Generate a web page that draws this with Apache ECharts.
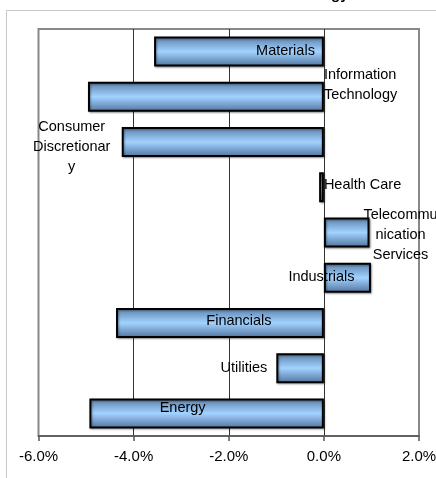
<!DOCTYPE html>
<html>
<head>
<meta charset="utf-8">
<script src="https://cdn.jsdelivr.net/npm/echarts@6/dist/echarts.min.js"></script>
<style>
html,body{margin:0;padding:0;background:#fff;}
#chart{width:436px;height:478px;}
</style>
</head>
<body>
<div id="chart"></div>
<script>
const categories = ['Materials','Information Technology','Consumer Discretionary','Health Care','Telecommunication Services','Industrials','Financials','Utilities','Energy'];
const returnsPct = [-3.57, -4.96, -4.25, -0.10, 0.96, 0.99, -4.37, -1.00, -4.93];
const labelTexts = ['Materials','Information\nTechnology','Consumer\nDiscretionar\ny','Health Care','Telecommu\nnication\nServices','Industrials','Financials','Utilities','Energy'];
const titleText = 'S&P 500 Sector Returns vs. Strategy';
const axisMin = -6, axisMax = 2, axisStep = 2;

// label placement (layout only)
const labelPlacement = [
  {position:'insideRight', distance:9, offset:[0,-1]},
  {position:'right', distance:0, align:'left', offset:[0,-12]},
  {position:'left', distance:0, align:'center', offset:[-50,5]},
  {position:'right', distance:0, offset:[0,-2]},
  {position:'right', distance:0, align:'center', offset:[31,2]},
  {position:'inside', offset:[-26,-1]},
  {position:'inside', offset:[19,-2]},
  {position:'left', distance:9, offset:[0,0]},
  {position:'inside', offset:[-24,-5]}
];

const chart = echarts.init(document.getElementById('chart'), null, {renderer:'canvas'});
const font = "'Liberation Sans', Arial, sans-serif";

const barColor = new echarts.graphic.LinearGradient(0,0,0,1,[
  {offset:0, color:'#5b80aa'},
  {offset:0.5, color:'#a2d2ff'},
  {offset:1, color:'#50739d'}
]);

chart.setOption({
  animation:false,
  backgroundColor:'#fff',
  title:{
    text:titleText, left:'center', top:-19,
    textStyle:{fontFamily:font, fontSize:15, fontWeight:'bold', color:'#000', lineHeight:18}
  },
  graphic:[{
    type:'rect', shape:{x:6.5, y:10.5, width:445, height:480},
    style:{fill:null, stroke:'#c8c8c8', lineWidth:1}, z:-10
  }],
  grid:{left:38.5, right:17, top:29, bottom:42, show:true, borderColor:'#888', borderWidth:2, containLabel:false, outerBoundsMode:'none'},
  xAxis:{
    type:'value', min:axisMin, max:axisMax, interval:axisStep,
    axisLine:{show:true, lineStyle:{color:'#555', width:1.5}},
    axisTick:{show:true, length:5, lineStyle:{color:'#555', width:1.5}},
    axisLabel:{formatter:v=>v.toFixed(1)+'%', fontFamily:font, fontSize:15, color:'#000', margin:13},
    splitLine:{show:true, lineStyle:{color:['#888','#333','#333','#333','#888'], width:1}}
  },
  yAxis:{
    type:'category', data:categories, inverse:true,
    axisLine:{show:false}, axisTick:{show:false}, axisLabel:{show:false}, splitLine:{show:false}
  },
  series:[{
    type:'bar',
    barWidth:30,
    data:returnsPct.map((v,i)=>({
      value:v,
      label:Object.assign({show:true, formatter:labelTexts[i]}, labelPlacement[i])
    })),
    itemStyle:{color:barColor, borderColor:'#000', borderWidth:2, shadowColor:'rgba(0,0,0,0.35)', shadowBlur:2, shadowOffsetX:1, shadowOffsetY:1},
    label:{show:true, fontFamily:font, fontSize:14.5, color:'#000', lineHeight:20}
  }]
});
</script>
</body>
</html>
